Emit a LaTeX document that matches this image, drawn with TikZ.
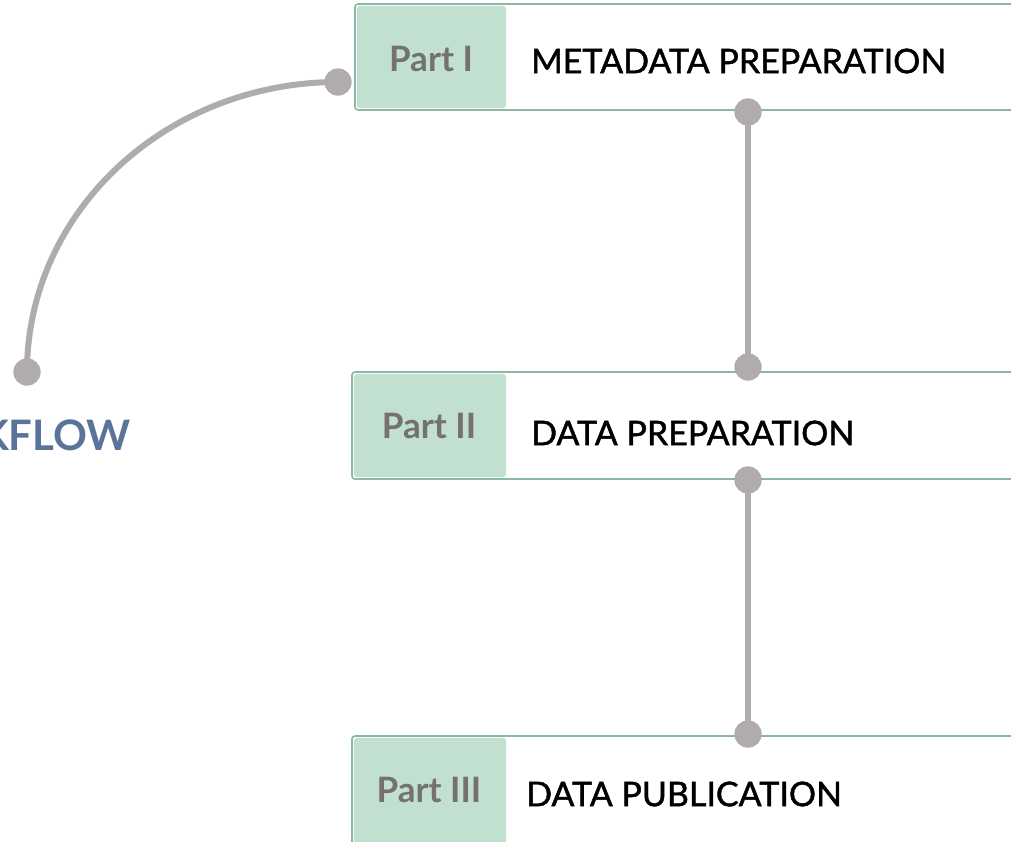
\documentclass[tikz,border=0pt]{standalone}
\usepackage{fontspec}
\setmainfont{Lato}
\definecolor{boxline}{HTML}{8DB6AA}
\definecolor{partfill}{HTML}{C2E0CF}
\definecolor{parttext}{HTML}{75716E}
\definecolor{joint}{HTML}{B0ACAB}
\definecolor{flowblue}{HTML}{5A7398}
\tikzset{
  x=1pt, y=-1pt,
  stagebox/.style={draw=boxline, line width=1.6pt, fill=white, rounded corners=3pt},
  partbox/.style={fill=partfill, rounded corners=3pt},
  partlabel/.style={text=parttext, font=\fontsize{35}{40}\selectfont\bfseries, inner sep=0pt},
  stagetitle/.style={text=black, font=\fontsize{34}{40}\selectfont\addfontfeature{FakeBold=1.3}, anchor=west, inner sep=0pt},
  dot/.style={circle, fill=joint, minimum size=27pt, inner sep=0pt},
  link/.style={draw=joint, line width=6pt},
}
\begin{document}
\begin{tikzpicture}
\useasboundingbox (0,0) rectangle (1011,841);
\clip (0,0) rectangle (1011,841);

% stage boxes
\draw[stagebox] (355,4) rectangle (1040,110);
\fill[partbox] (356.8,5.8) rectangle (506,108.2);
\draw[stagebox] (352,372) rectangle (1040,479);
\fill[partbox] (353.8,373.8) rectangle (506,477.2);
\draw[stagebox] (352,736) rectangle (1040,870);
\fill[partbox] (353.8,737.8) rectangle (506,870);

% labels
\node[partlabel] (p1) at (431,59) {Part I};
\node[stagetitle] (t1) at (531,61) {METADATA PREPARATION};
\node[partlabel] (p2) at (429,426) {Part II};
\node[stagetitle] (t2) at (531,433) {DATA PREPARATION};
\node[partlabel] (p3) at (429,790) {Part III};
\node[stagetitle] (t3) at (526,794) {DATA PUBLICATION};

\node[text=flowblue, font=\fontsize{42}{48}\selectfont\bfseries, anchor=east, inner sep=0pt] (wf) at (131,435) {KFLOW};

% joints
\node[dot] (a1) at (338,82) {};
\node[dot] (a2) at (27,372) {};
\node[dot] (b1) at (748,112) {};
\node[dot] (b2) at (748,367) {};
\node[dot] (c1) at (748,480) {};
\node[dot] (c2) at (748,734) {};

% connectors
\draw[link] (a1.center) .. controls +(-172,0) and +(0,-160) .. (a2.center);
\draw[link] (b1.center) -- (b2.center);
\draw[link] (c1.center) -- (c2.center);
\node[dot] at (a1) {};
\node[dot] at (a2) {};
\node[dot] at (b1) {};
\node[dot] at (b2) {};
\node[dot] at (c1) {};
\node[dot] at (c2) {};
\end{tikzpicture}
\end{document}
